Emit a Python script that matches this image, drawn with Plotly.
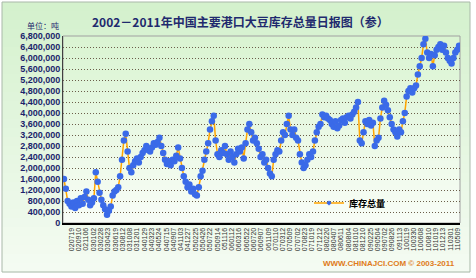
import plotly.graph_objects as go

# ---------------- data ----------------
tick_labels = ["020719", "020910", "021106", "030102", "030228", "030423", "030619", "030812",
               "031008", "031201", "040129", "040323", "040524", "040715", "040907", "041103",
               "041227", "050225", "050426", "050722", "050914", "051116", "060112", "060316",
               "060522", "060720", "060907", "061109", "070110", "070312", "070509", "070702",
               "070823", "071019", "071212", "080220", "080407", "080611", "080804", "081010",
               "081210", "090225", "090504", "090702", "090826", "091113", "100119", "100330",
               "100608", "100810", "101019", "101213", "110301", "110509"]

# soybean port stock, unit: 10k tons (sampled along the time axis)
stock_wan = [160, 125, 80, 70,
             60, 75, 55, 80, 65, 90,
             70, 95, 115, 85, 65, 75, 90,
             185, 150, 110,
             85, 65, 50, 30, 45, 60,
             100, 115, 120, 130,
             170, 230, 300, 325,
             260, 200, 185,
             210, 225, 235, 220, 240,
             255, 265, 280, 270, 260, 275,
             290, 285, 295, 310, 280,
             255, 230, 215, 225, 210, 230, 225, 245, 275, 235,
             200, 170, 150, 130, 140, 115, 125, 105, 100, 130,
             170, 190, 230, 260, 290, 340, 370,
             390, 300,
             250, 240, 265, 255, 280, 250, 230, 260, 240, 220, 250, 270, 260, 275,
             235,
             290, 340, 360, 330,
             300, 310, 290,
             270, 240, 250, 220, 230, 200, 180, 170,
             230, 250, 265, 260,
             300, 330, 320, 360, 390, 340,
             320, 340, 310, 300,
             250, 220, 200, 210,
             230, 250, 240, 260,
             300, 330, 350, 360, 395,
             385, 390, 380, 375,
             360, 350, 370, 345, 355,
             375, 380, 365, 385, 390, 380, 395, 405, 420, 440,
             300,
             290, 330,
             370, 360, 375, 355, 365,
             280, 300, 310,
             380, 420, 445, 430,
             410, 385, 360, 340,
             330, 315, 340, 330, 370,
             400, 460,
             480, 490, 475, 490, 500,
             540, 570, 600,
             650, 670,
             620, 600, 615, 570,
             610, 630, 640, 650, 630, 645, 620,
             600, 590, 580, 600,
             620, 630, 645]

series_name = "库存总量"
title_text = "2002－2011年中国主要港口大豆库存总量日报图（参）"
unit_text = "单位：吨"
footer_text = "WWW.CHINAJCI.COM © 2003-2011"

LINE_COLOR = "#FFA500"
MARKER_COLOR = "#3A6AE8"

# ---------------- layout helpers ----------------
W, H = 476, 278
L, R, T, B = 63, 460, 36, 223  # plot area in pixels


def px_x(p):
    return (p - L) / (R - L)


def px_y(p):
    return (B - p) / (B - T)


def mix(c0, c1, t):
    return "rgb(%d,%d,%d)" % tuple(round(a + (b - a) * t) for a, b in zip(c0, c1))


shapes = []

# outer panel gradient
n = 30
oy0, oy1, ox0, ox1 = 2, 272, 2, 470
for k in range(n):
    ya = oy0 + (oy1 - oy0) * k / n
    yb = oy0 + (oy1 - oy0) * (k + 1) / n + 0.6
    shapes.append(dict(type="rect", xref="paper", yref="paper",
                       x0=px_x(ox0), x1=px_x(ox1), y0=px_y(yb), y1=px_y(ya),
                       fillcolor=mix((212, 241, 205), (244, 251, 242), k / (n - 1)),
                       line_width=0, layer="below"))
shapes.append(dict(type="rect", xref="paper", yref="paper",
                   x0=px_x(ox0), x1=px_x(ox1), y0=px_y(oy1), y1=px_y(oy0),
                   line=dict(color="#A9B8A9", width=1), layer="below"))

# plot area gradient
m = 30
for k in range(m):
    ya = T + (B - T) * k / m
    yb = T + (B - T) * (k + 1) / m + 0.6
    shapes.append(dict(type="rect", xref="paper", yref="paper",
                       x0=0, x1=1, y0=max(0, px_y(yb)), y1=px_y(ya),
                       fillcolor=mix((218, 244, 210), (248, 253, 246), k / (m - 1)),
                       line_width=0, layer="below"))
shapes.append(dict(type="rect", xref="paper", yref="paper", x0=0, x1=1, y0=0, y1=1,
                   line=dict(color="#A0A0A0", width=1), layer="below"))

# tick positions along the sampled index axis
npts = len(stock_wan)
first_tick = (70.7 - L) / (R - L) * npts
last_tick = (456.7 - L) / (R - L) * npts
nt = len(tick_labels)
tickvals = [first_tick + i * (last_tick - first_tick) / (nt - 1) for i in range(nt)]

fig = go.Figure()
fig.add_trace(go.Scatter(
    x=list(range(npts)),
    y=[v * 10000 for v in stock_wan],
    mode="lines+markers",
    name=series_name,
    showlegend=False,
    line=dict(color=LINE_COLOR, width=1.5),
    marker=dict(symbol="circle", size=6.5, color=MARKER_COLOR, line=dict(width=0)),
))
# legend entry (small marker like the original legend key)
fig.add_trace(go.Scatter(
    x=[None], y=[None],
    mode="lines+markers",
    name=series_name,
    line=dict(color=LINE_COLOR, width=1.5),
    marker=dict(symbol="diamond", size=4, color=MARKER_COLOR, line=dict(width=0)),
))

fig.update_layout(
    width=W, height=H,
    margin=dict(l=L, r=W - R, t=T, b=H - B, pad=0),
    paper_bgcolor="white",
    plot_bgcolor="rgba(0,0,0,0)",
    shapes=shapes,
    showlegend=True,
    legend=dict(x=px_x(309), y=px_y(203), xanchor="left", yanchor="middle",
                bgcolor="rgba(0,0,0,0)", itemwidth=30,
                font=dict(family="Noto Sans CJK SC", size=9, color="black", weight="bold")),
    xaxis=dict(range=[-0.5, npts - 0.5], tickvals=tickvals, ticktext=tick_labels,
               tickangle=-90, tickfont=dict(family="Liberation Sans, Arial", size=7, color="#333333"),
               showgrid=False, zeroline=False, showline=True, linecolor="black", linewidth=2,
               ticks=""),
    yaxis=dict(range=[0, 6800000], dtick=400000, tickformat=",d",
               tickfont=dict(family="Liberation Sans, Arial", size=9, color="#1B1F6B", weight="bold"),
               showgrid=True, gridcolor="#6B5E4A", griddash="1px,2px", gridwidth=1,
               zeroline=False, showline=True, linecolor="#404040", linewidth=1, ticks=""),
    annotations=[
        dict(text=title_text, xref="paper", yref="paper", x=px_x(240), y=px_y(22),
             xanchor="center", yanchor="middle", showarrow=False,
             font=dict(family="Noto Sans CJK SC", size=12, color="#1F2A6E", weight="bold")),
        dict(text=unit_text, xref="paper", yref="paper", x=px_x(43), y=px_y(25),
             xanchor="center", yanchor="middle", showarrow=False,
             font=dict(family="Noto Sans CJK SC", size=8, color="#1F2A6E")),
        dict(text=footer_text, xref="paper", yref="paper", x=px_x(457), y=px_y(263),
             xanchor="right", yanchor="middle", showarrow=False,
             font=dict(family="Liberation Sans, Arial", size=8, color="#E07B20", weight="bold")),
    ],
)

fig.write_html("out.html")
